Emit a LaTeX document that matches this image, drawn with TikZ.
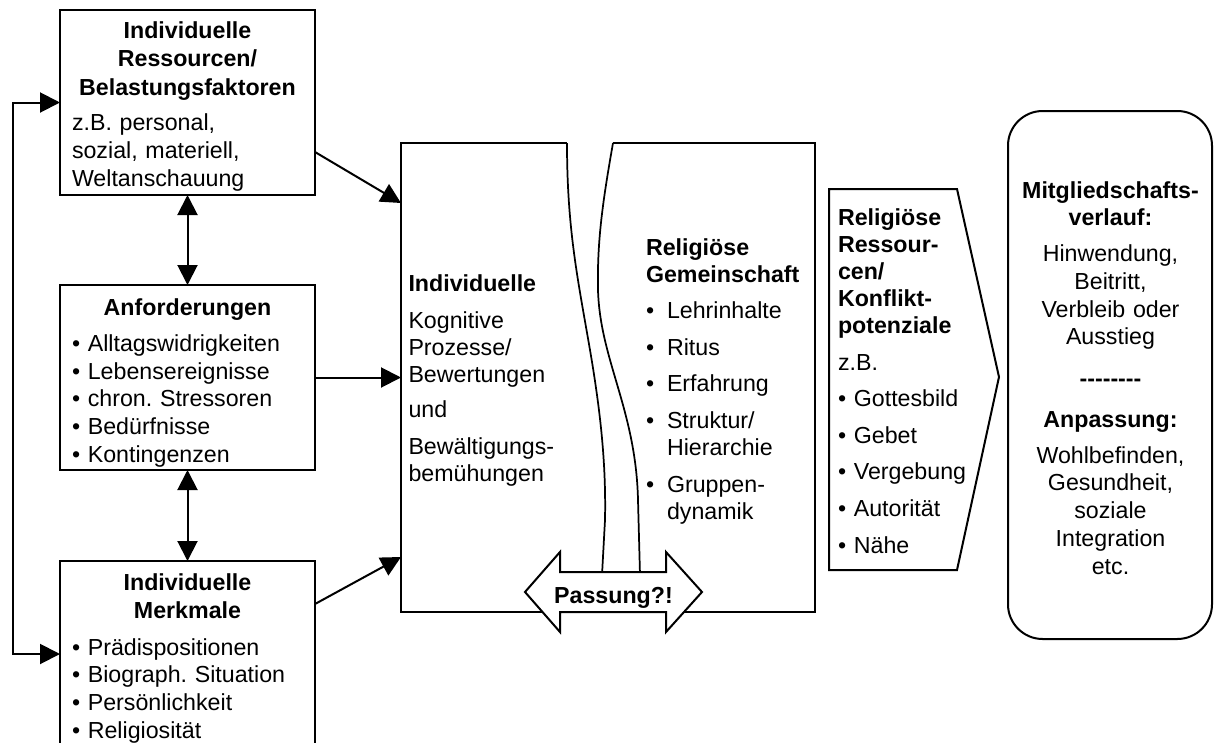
\documentclass[tikz,border=0pt]{standalone}
\usepackage{fontspec}
\setmainfont{Liberation Sans}
\usetikzlibrary{arrows.meta,calc}
\frenchspacing
\newcommand{\fs}[1]{\fontsize{17.4pt}{#1}\selectfont}
\newcommand{\hy}{\mbox{-}}
\newcommand{\bl}{\makebox[15.75pt][l]{•}}
\newcommand{\ind}{\hspace*{15.75pt}}
\tikzset{
  box/.style={draw, line width=1.5pt, outer sep=0pt, inner sep=0pt},
  arr/.style={line width=1.5pt, -{Triangle[length=15pt,width=15pt]}},
  dblarr/.style={line width=1.5pt, {Triangle[length=15pt,width=15pt]}-{Triangle[length=15pt,width=15pt]}},
  txt/.style={inner sep=0pt, outer sep=0pt},
  wave/.style={line width=1.3pt},
  outline/.style={line width=1.5pt},
}
\begin{document}
\begin{tikzpicture}[x=0.75pt,y=-0.75pt]
\useasboundingbox (0,0) rectangle (1215,743);
\clip (0,0) rectangle (1215,743);

% left column boxes
\node[box, minimum width=191.25pt, minimum height=138.75pt] (box1) at (187.5,102.5) {};
\node[box, minimum width=191.25pt, minimum height=138.75pt] (box2) at (187.5,377.5) {};
\node[box, minimum width=191.25pt, minimum height=139.5pt] (box3) at (187.5,654) {};

% central compound
\node[txt, minimum width=310.5pt, minimum height=351.75pt] (cbox) at (608,377.5) {};
\coordinate (w1t) at (567,143);
\coordinate (w2t) at (613,143);
\draw[outline] (w1t) -| (cbox.south west) -| (cbox.north east) -- (w2t);
\draw[wave] (w1t) .. controls (567,230) and (578,280) .. (590,350)
  .. controls (602,420) and (606,470) .. (605,520) -- (600,612);
\draw[wave] (w2t) .. controls (603,200) and (597,240) .. (598,290)
  .. controls (600,360) and (636,410) .. (638,500) -- (641,612);

% Passung double arrow
\draw[outline, fill=white] (525,592) -- (560,552) -- (560,572) -- (666,572) -- (666,552)
  -- (702,592) -- (666,632) -- (666,612) -- (560,612) -- (560,632) -- cycle;
\node[txt, anchor=base, font=\fs{20pt}\bfseries] (pass) at (613.5,603.5) {Passung?!};

% pentagon
\draw[outline] (829,189) -- (957,189) -- (999,377) -- (957,570) -- (829,570) -- cycle;

% rounded outcome box
\node[box, rounded corners=26pt, minimum width=153pt, minimum height=396pt] (outc) at (1110,375) {};

% connectors
\draw[arr] ($(box1.south east)+(0,-43)$) -- ($(cbox.north west)+(0,60)$);
\draw[arr] (box2.east) -- (box2.east -| cbox.west);
\draw[arr] ($(box3.north east)+(0,43)$) -- ($(cbox.south west)+(0,-55)$);
\draw[dblarr] (box1.south) -- (box2.north);
\draw[dblarr] (box2.south) -- (box3.north);
\draw[dblarr] (box1.west) -- ++(-47,0) |- (box3.west);

% texts left column
\node[txt, anchor=base, text width=187.5pt, align=center, font=\fs{21.4pt}\bfseries] (t1h) at (187.5,38.3)
  {Individuelle\\Ressourcen/\\Belastungsfaktoren};
\node[txt, anchor=base west, text width=180pt, align=left, font=\fs{21pt}] (t1b) at (72,130.5)
  {z.B. personal,\\sozial, materiell,\\Weltanschauung};
\node[txt, anchor=base, text width=187.5pt, align=center, font=\fs{21pt}\bfseries] (t2h) at (187.5,315)
  {Anforderungen};
\node[txt, anchor=base west, text width=180pt, align=left, font=\fs{20.7pt}] (t2b) at (72,351.7)
  {• Alltagswidrigkeiten\\• Lebensereignisse\\• chron. Stressoren\\• Bedürfnisse\\• Kontingenzen};
\node[txt, anchor=base, text width=187.5pt, align=center, font=\fs{21.4pt}\bfseries] (t3h) at (187.5,590)
  {Individuelle\\Merkmale};
\node[txt, anchor=base west, text width=180pt, align=left, font=\fs{20.8pt}] (t3b) at (72,655)
  {• Prädispositionen\\• Biograph. Situation\\• Persönlichkeit\\• Religiosität};

% central texts
\node[txt, anchor=base west, text width=150pt, align=left, font=\fs{20.25pt}] (tcl) at (408.5,291.7)
  {\textbf{Individuelle}\\[7pt]Kognitive\\Prozesse/\\Bewertungen\\[6.5pt]und\\[7.5pt]Bewältigungs-\\bemühungen};
\node[txt, anchor=base west, text width=130pt, align=left, font=\fs{20.25pt}] (tcr) at (646,255)
  {\textbf{Religiöse}\\\textbf{Gemeinschaft}\\[7.2pt]\bl Lehrinhalte\\[7.2pt]\bl Ritus\\[7.2pt]\bl Erfahrung\\[7.2pt]\bl Struktur/\\\ind Hierarchie\\[7.2pt]\bl Gruppen-\\\ind dynamik};

% pentagon text
\node[txt, anchor=base west, text width=120pt, align=left, font=\fs{20.25pt}] (tp) at (838,225)
  {\textbf{Religiöse}\\\textbf{Ressour-}\\\textbf{cen/}\\\textbf{Konflikt-}\\\textbf{potenziale}\\[7.5pt]z.B.\\[7.2pt]• Gottesbild\\[7.2pt]• Gebet\\[7.2pt]• Vergebung\\[7.2pt]• Autorität\\[7.2pt]• Nähe};

% outcome text
\node[txt, anchor=base, text width=150pt, align=center, font=\fs{20.8pt}] (to) at (1110.5,198)
  {\textbf{Mitgliedschafts-}\\\textbf{verlauf:}\\[6.2pt]Hinwendung,\\Beitritt,\\Verbleib oder\\Ausstieg\\[10.4pt]\textbf{\hy\hy\hy\hy\hy\hy\hy\hy}\\[9.6pt]\textbf{Anpassung:}\\[6.2pt]Wohlbefinden,\\Gesundheit,\\soziale\\Integration\\etc.};
\end{tikzpicture}
\end{document}
